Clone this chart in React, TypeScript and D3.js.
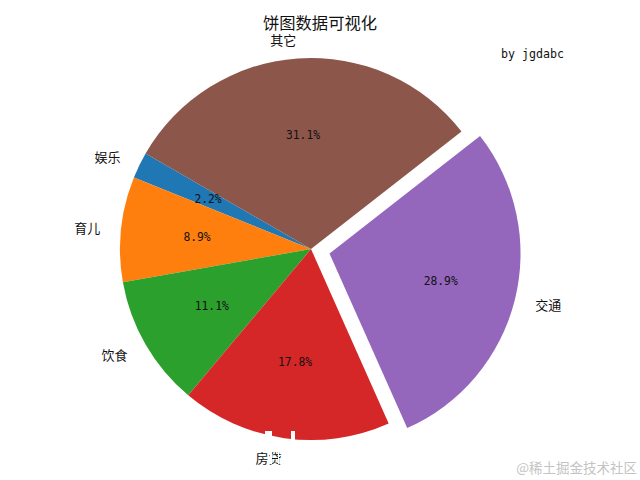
import React from "react";
import * as d3 from "d3";

const labels = ["娱乐", "育儿", "饮食", "房贷", "交通", "其它"];
const values = [1, 4, 5, 8, 13, 14];
const explode = [0, 0, 0, 0, 0.1, 0];
const colors = ["#1f77b4", "#ff7f0e", "#2ca02c", "#d62728", "#9467bd", "#8c564b"];

const W = 640, H = 480, CX = 311, CY = 249, R = 191;
const START = (-60 * Math.PI) / 180;
const CJK = "'Noto Sans CJK SC', sans-serif";
const MONO = "'Liberation Mono', monospace";
// White scars left on the picture's lower edge in the reference
const scars = [
  [265, 431, 7, 7],
  [291, 431, 4, 10],
  [254, 450, 1.5, 14],
  [270, 450, 2, 14],
  [278, 450, 1, 14],
];

export default function App() {
  const arcs = d3.pie<number>().sort(null).startAngle(START).endAngle(START - 2 * Math.PI)(values);
  const total = d3.sum(values);
  const arcGen = d3.arc<any>().innerRadius(0).outerRadius(R);
  const geo = (a: any, i: number) => {
    const mid = (a.startAngle + a.endAngle) / 2;
    return {
      ox: Math.sin(mid) * explode[i] * R + CX,
      oy: -Math.cos(mid) * explode[i] * R + CY,
      lx: Math.sin(mid) * 1.11 * R,
      ly: -Math.cos(mid) * 1.1 * R,
      px: Math.sin(mid) * 0.6 * R,
      py: -Math.cos(mid) * 0.6 * R,
    };
  };
  return (
    <svg width={W} height={H} viewBox={`0 0 ${W} ${H}`} style={{ position: "absolute", left: 0, top: 0, background: "#fff" }}>
      {arcs.map((a, i) => {
        const g = geo(a, i);
        return <path key={labels[i]} transform={`translate(${g.ox},${g.oy})`} d={arcGen(a) as string} fill={colors[i]} />;
      })}
      {arcs.map((a, i) => {
        const g = geo(a, i);
        const pct = `${((values[i] / total) * 100).toFixed(1)}%`;
        return (
          <g key={labels[i]} transform={`translate(${g.ox},${g.oy})`}>
            <text x={g.lx} y={g.ly} textAnchor={g.lx < 0 ? "end" : "start"} dominantBaseline="central" fontFamily={CJK} fontSize={13} fill="#111">{labels[i]}</text>
            <text x={g.px} y={g.py} textAnchor="middle" dominantBaseline="central" fontFamily="'DejaVu Sans Mono', monospace" fontSize={12} fill="#111" textLength={pct.length * 6.8} lengthAdjust="spacingAndGlyphs">{pct}</text>
          </g>
        );
      })}
      {scars.map((s, i) => (
        <rect key={i} x={s[0]} y={s[1]} width={s[2]} height={s[3]} fill="#fff" />
      ))}
      <text x={320} y={22} textAnchor="middle" dominantBaseline="central" fontFamily={CJK} fontSize={16.3} fill="#111">饼图数据可视化</text>
      <text x={501} y={54} dominantBaseline="central" fontFamily="'DejaVu Sans Mono', monospace" fontSize={11.8} fill="#111" textLength={63} lengthAdjust="spacingAndGlyphs">by jgdabc</text>
      <text x={637} y={467} textAnchor="end" dominantBaseline="central" fontFamily="'Noto Sans CJK SC', serif" fontSize={13.5} fill="#c4c4c4">@稀土掘金技术社区</text>
    </svg>
  );
}
